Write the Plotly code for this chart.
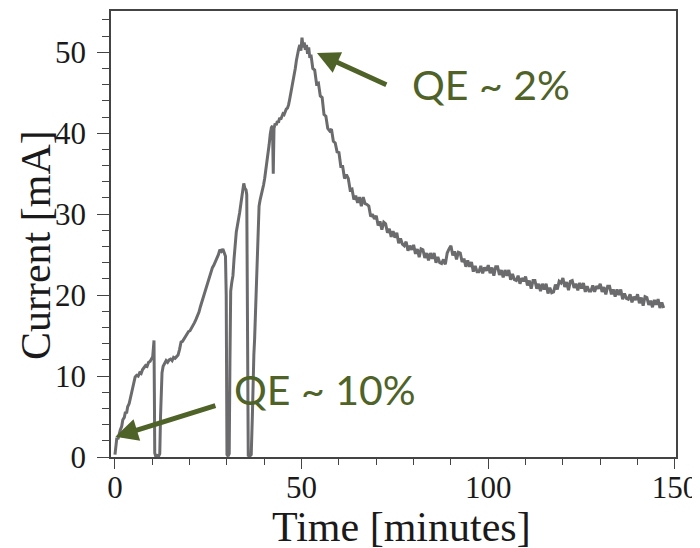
import plotly.graph_objects as go

# ---------------- data ----------------
rise_t = [0.0, 0.2, 0.5, 0.8, 1.1, 1.4, 1.8, 2.1, 2.5, 2.8, 3.1, 3.4, 3.8, 4.1, 4.4, 4.8, 5.1, 5.4, 5.8, 6.2,
          6.6, 7.0, 7.4, 7.8, 8.2, 8.6, 9.0, 9.4, 9.8, 10.1, 10.3, 10.45, 10.55, 10.65, 10.9, 11.3, 11.7, 12.0,
          12.2, 12.4, 12.6, 12.9, 13.3, 13.7, 14.1, 14.5, 14.9, 15.3, 15.7, 16.1, 16.5, 16.9, 17.3, 17.7, 18.1,
          18.5, 18.9, 19.3, 19.7, 20.1, 20.5, 20.9, 21.3, 21.7, 22.1, 22.5, 22.9, 23.3, 23.7, 24.1, 24.5, 24.9,
          25.3, 25.7, 26.1, 26.5, 26.9, 27.3, 27.7, 28.1, 28.5, 28.9, 29.3, 29.6, 29.8, 29.9, 30.0, 30.3, 30.6,
          30.8, 31.0, 31.3, 31.6, 31.9, 32.2, 32.5, 32.8, 33.1, 33.4, 33.7, 34.0, 34.3, 34.5, 34.8, 35.1, 35.3,
          35.4, 35.5, 35.7, 36.1, 36.5, 36.8, 37.0, 37.2, 37.4, 37.6, 37.8, 38.0, 38.3, 38.6, 38.9, 39.2, 39.5,
          39.8, 40.1, 40.4, 40.7, 41.0, 41.3, 41.6, 41.9, 42.2, 42.4, 42.6, 42.9, 43.2, 43.5, 43.8, 44.1, 44.4,
          44.7, 45.0, 45.3, 45.6, 45.9, 46.2, 46.5, 46.8, 47.1, 47.4, 47.7, 48.0, 48.3, 48.6, 48.9, 49.2, 49.5,
          49.8, 50.1, 50.4, 50.7, 51.0, 51.3, 51.6, 51.9, 52.2]
rise_i = [0.3, 1.5, 2.4, 2.2, 2.9, 3.3, 3.8, 4.6, 4.9, 5.6, 5.4, 6.2, 6.6, 7.3, 7.9, 8.9, 9.6, 9.9, 10.1, 10.0,
          10.4, 10.3, 10.8, 11.0, 11.3, 11.2, 11.7, 11.8, 12.2, 12.4, 13.5, 14.4, 8.0, 0.5, 0.1, 0.2, 0.1, 0.4,
          5.0, 9.0, 10.4, 11.2, 11.6, 11.9, 11.7, 12.0, 12.1, 11.9, 12.3, 12.2, 12.4, 12.6, 13.3, 14.2, 14.3,
          14.6, 15.0, 15.3, 15.5, 15.6, 15.9, 16.2, 16.6, 17.0, 17.4, 17.9, 18.6, 19.2, 19.8, 20.3, 20.9, 21.6,
          22.2, 22.9, 23.4, 23.7, 24.1, 24.5, 25.0, 25.6, 25.4, 25.7, 25.3, 24.8, 20.0, 5.0, 0.3, 0.1, 0.4,
          12.0, 20.5, 21.6, 22.4, 24.5, 26.5, 27.8, 28.6, 29.3, 30.2, 31.2, 32.2, 33.4, 33.8, 33.2, 33.0, 32.4,
          20.0, 3.0, 0.2, 0.1, 0.3, 5.0, 11.0, 12.6, 14.5, 17.5, 21.0, 24.0, 28.5, 31.0, 31.8, 32.3, 33.0,
          33.6, 34.4, 35.3, 36.2, 37.3, 38.6, 39.9, 40.7, 40.9, 35.0, 40.6, 41.2, 41.0, 41.5, 41.3, 41.9, 41.7,
          42.1, 42.4, 42.3, 42.8, 43.0, 43.1, 43.5, 44.2, 44.9, 45.6, 46.4, 47.1, 48.0, 49.0, 49.9, 50.4, 50.9,
          50.2, 51.8, 50.6, 51.2, 50.3, 50.9, 49.8, 50.6, 49.3]

decay_t = [52.5, 53.0, 53.5, 54.0, 54.5, 55.0, 55.5, 56.0, 56.5, 57.0, 57.5, 58.0, 58.5, 59.0, 59.5, 60.0,
           60.5, 61.0, 61.5, 62.0, 62.5, 63.0, 63.5, 64.0, 64.5, 65.0, 65.5, 66.0, 66.5, 67.0, 67.5, 68.0,
           68.5, 69.0, 69.5, 70.0, 70.5, 71.0, 71.5, 72.0, 72.5, 73.0, 73.5, 74.0, 74.5, 75.0, 75.5, 76.0,
           76.5, 77.0, 77.5, 78.0, 78.5, 79.0, 79.5, 80.0, 80.5, 81.0, 81.5, 82.0, 82.5, 83.0, 83.5, 84.0,
           84.5, 85.0, 85.5, 86.0, 86.5, 87.0, 87.5, 88.0, 88.5, 89.0, 89.5, 90.0, 90.5, 91.0, 91.5, 92.0,
           92.5, 93.0, 93.5, 94.0, 94.5, 95.0, 95.5, 96.0, 96.5, 97.0, 97.5, 98.0, 98.5, 99.0, 99.5, 100.0,
           100.5, 101.0, 101.5, 102.0, 102.5, 103.0, 103.5, 104.0, 104.5, 105.0, 105.5, 106.0, 106.5, 107.0,
           107.5, 108.0, 108.5, 109.0, 109.5, 110.0, 110.5, 111.0, 111.5, 112.0, 112.5, 113.0, 113.5, 114.0,
           114.5, 115.0, 115.5, 116.0, 116.5, 117.0, 117.5, 118.0, 118.5, 119.0, 119.5, 120.0, 120.5, 121.0,
           121.5, 122.0, 122.5, 123.0, 123.5, 124.0, 124.5, 125.0, 125.5, 126.0, 126.5, 127.0, 127.5, 128.0,
           128.5, 129.0, 129.5, 130.0, 130.5, 131.0, 131.5, 132.0, 132.5, 133.0, 133.5, 134.0, 134.5, 135.0,
           135.5, 136.0, 136.5, 137.0, 137.5, 138.0, 138.5, 139.0, 139.5, 140.0, 140.5, 141.0, 141.5, 142.0,
           142.5, 143.0, 143.5, 144.0, 144.5, 145.0, 145.5, 146.0, 146.5, 147.0]
decay_i = [49.7, 48.0, 47.8, 46.1, 46.2, 44.6, 44.4, 42.3, 42.1, 40.6,
           40.3, 40.5, 39.0, 38.8, 37.7, 37.6, 35.9, 35.9, 34.4, 34.9,
           34.4, 33.0, 33.1, 31.8, 32.3, 31.4, 32.1, 31.0, 32.1, 31.3,
           31.2, 31.0, 29.7, 30.0, 29.4, 29.8, 28.6, 29.1, 28.1, 29.0,
           28.8, 27.7, 28.2, 27.2, 27.9, 27.1, 27.7, 26.4, 27.0, 26.3,
           26.1, 26.6, 25.5, 26.1, 25.6, 26.2, 25.1, 25.7, 24.7, 25.7,
           25.6, 24.6, 25.2, 24.3, 25.2, 24.5, 25.2, 24.0, 24.7, 24.0,
           23.9, 24.4, 23.8, 25.2, 25.7, 26.1, 24.9, 25.4, 24.4, 25.3,
           25.2, 24.1, 24.5, 23.5, 24.3, 23.5, 24.1, 22.9, 23.6, 22.9,
           22.9, 23.6, 22.7, 23.4, 23.0, 23.7, 22.7, 23.4, 22.4, 23.5,
           23.5, 22.5, 23.1, 22.2, 23.1, 22.4, 23.1, 21.9, 22.6, 21.9,
           21.8, 22.4, 21.4, 22.1, 21.7, 22.3, 21.2, 21.8, 20.8, 21.8,
           21.8, 20.8, 21.4, 20.5, 21.4, 20.7, 21.4, 20.2, 20.9, 20.3,
           20.4, 21.3, 20.7, 21.7, 21.5, 22.1, 21.0, 21.6, 20.6, 21.7,
           21.8, 20.9, 21.4, 20.6, 21.5, 20.8, 21.5, 20.4, 21.1, 20.5,
           20.5, 21.2, 20.4, 21.1, 20.8, 21.4, 20.4, 21.0, 20.1, 21.1,
           21.1, 20.1, 20.7, 19.8, 20.7, 20.0, 20.7, 19.5, 20.2, 19.6,
           19.5, 20.1, 19.1, 19.8, 19.4, 20.1, 19.0, 19.7, 18.7, 19.8,
           19.7, 18.8, 19.3, 18.5, 19.4, 18.8, 19.5, 18.4, 19.1, 18.4]

time_min = rise_t + decay_t
current_ma = rise_i + decay_i

x_ticks = [0, 50, 100, 150]
y_ticks = [0, 10, 20, 30, 40, 50]

x_title = "Time [minutes]"
y_title = "Current [mA]"
label_high = "QE ~ 2%"
label_low = "QE ~ 10%"

GREEN = "#4F6228"
SERIF = "Liberation Serif, Times New Roman, serif"
SANS = "Lato, Open Sans, sans-serif"
INK = "#1a1a1a"

fig = go.Figure()
fig.add_trace(go.Scatter(x=time_min, y=current_ma, mode="lines",
                         line=dict(color="#6b6b6e", width=3), hoverinfo="skip"))

axis_common = dict(showgrid=False, zeroline=False, showline=True, mirror=True, automargin=False,
                   linecolor="#444444", linewidth=1.5, ticks="outside", tickcolor="#444444",
                   tickfont=dict(family=SERIF, size=31, color=INK))

fig.update_xaxes(range=[-1.07, 150.3], tickvals=x_ticks, ticklen=10, tickwidth=1.3, ticklabelstandoff=-8,
                 minor=dict(dtick=10, tick0=0, ticklen=6, ticks="outside", tickcolor="#444444", tickwidth=1.2),
                 **axis_common)
fig.update_yaxes(range=[0, 55.1], tickvals=y_ticks, ticklen=12, tickwidth=1.3, ticklabelstandoff=5,
                 minor=dict(dtick=2, tick0=0, ticklen=7, ticks="outside", tickcolor="#444444", tickwidth=1.2),
                 **axis_common)

# axis titles
fig.add_annotation(x=0.515, y=-0.157, xref="paper", yref="paper", text=x_title, showarrow=False,
                   xanchor="center", yanchor="middle", font=dict(family=SERIF, size=42, color=INK))
fig.add_annotation(x=-0.133, y=0.475, xref="paper", yref="paper", text=y_title, showarrow=False,
                   textangle=-90, xanchor="center", yanchor="middle", font=dict(family=SERIF, size=42, color=INK))

# arrows
fig.add_annotation(x=54.1, y=49.9, ax=73.1, ay=45.9, xref="x", yref="y", axref="x", ayref="y",
                   text="", showarrow=True, arrowhead=2, arrowsize=0.9, arrowwidth=5, arrowcolor=GREEN)
fig.add_annotation(x=0.1, y=2.5, ax=27.3, ay=6.4, xref="x", yref="y", axref="x", ayref="y",
                   text="", showarrow=True, arrowhead=2, arrowsize=0.9, arrowwidth=5, arrowcolor=GREEN)
# labels
fig.add_annotation(x=79.0, y=46.0, xref="x", yref="y", text=label_high, showarrow=False,
                   xanchor="left", yanchor="middle", font=dict(family=SANS, size=41, color=GREEN))
fig.add_annotation(x=31.3, y=8.3, xref="x", yref="y", text=label_low, showarrow=False,
                   xanchor="left", yanchor="middle", font=dict(family=SANS, size=41, color=GREEN))

# the page body adds an 8 px offset, so the figure is 8 px smaller than the window
fig.update_layout(width=692, height=540, margin=dict(l=103, r=24, t=3, b=91),
                  paper_bgcolor="white", plot_bgcolor="white", showlegend=False)

fig.write_html("out.html")
